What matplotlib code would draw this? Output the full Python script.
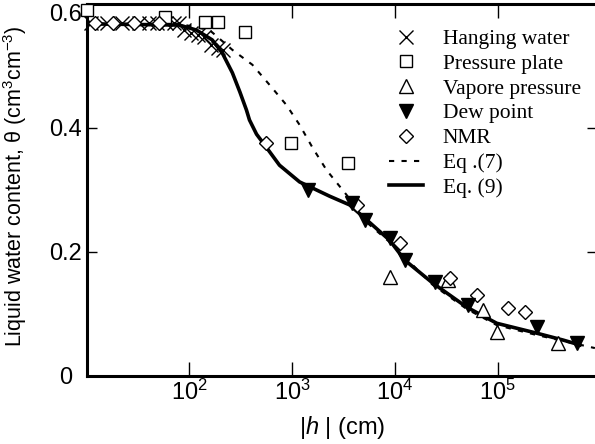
import matplotlib
matplotlib.use("Agg")
import matplotlib.pyplot as plt
from matplotlib.ticker import NullLocator, LogFormatterSciNotation

plt.rcParams['font.family'] = ['Liberation Sans', 'DejaVu Sans']
plt.rcParams['mathtext.fontset'] = 'custom'
plt.rcParams['mathtext.rm'] = 'Liberation Sans'
plt.rcParams['mathtext.it'] = 'Liberation Sans:italic'

# measured data, |h| in cm, theta in cm3/cm3
hang_h = [11.1, 15.9, 22.3, 32.6, 40.8, 48.8, 59.7, 71.4, 80.0,
          89.3, 104, 120, 140, 164, 188, 214]
hang_t = [0.570, 0.570, 0.570, 0.570, 0.570, 0.570, 0.570, 0.570, 0.570,
          0.558, 0.553, 0.550, 0.547, 0.534, 0.529, 0.526]

plate_h = [10, 58, 143, 188, 351, 984, 3450]
plate_t = [0.590, 0.579, 0.571, 0.571, 0.555, 0.376, 0.344]

vapor_h = [8850, 32500, 71300, 97500, 383000]
vapor_t = [0.160, 0.155, 0.106, 0.071, 0.053]

dew_h = [1410, 3780, 5060, 8850, 12400, 24300, 50900, 239000, 586000]
dew_t = [0.300, 0.279, 0.252, 0.223, 0.187, 0.152, 0.115, 0.079, 0.053]

nmr_h = [12.2, 18.2, 29.2, 51.1, 562, 4230, 11100, 34000, 62400, 125000, 183000]
nmr_t = [0.570, 0.570, 0.570, 0.570, 0.376, 0.276, 0.215, 0.158, 0.131, 0.110, 0.103]

# model curves
eq7_h = [10, 80, 157, 262, 410, 628, 879, 1180, 1580, 2160, 3380, 5280, 8850,
         23200, 49800, 97500, 239000, 877000]
eq7_t = [0.568, 0.568, 0.558, 0.526, 0.502, 0.466, 0.437, 0.405, 0.368, 0.332,
         0.292, 0.248, 0.216, 0.147, 0.108, 0.082, 0.066, 0.045]

eq9_h = [10, 80, 117, 167, 209, 262, 310, 359, 384, 450, 537, 752, 1180, 2310,
         3610, 5280, 8850, 12400, 23200, 49800, 97500, 239000, 429000, 627000]
eq9_t = [0.568, 0.566, 0.558, 0.542, 0.521, 0.489, 0.458, 0.429, 0.413, 0.390,
         0.373, 0.340, 0.313, 0.290, 0.276, 0.252, 0.219, 0.187, 0.150, 0.111,
         0.085, 0.069, 0.058, 0.050]

fig = plt.figure(figsize=(5.95, 4.44), dpi=100)
ax = fig.add_axes([0.1454, 0.1532, 0.858, 0.8378])

ax.plot(eq7_h, eq7_t, color='black', lw=1.5, ls=(0, (2.5, 3.5)), label='Eq .(7)', zorder=2)
ax.plot(eq9_h, eq9_t, color='black', lw=2.6, label='Eq. (9)', zorder=2)

ax.plot(hang_h, hang_t, ls='none', marker='x', ms=10, mew=1, color='black',
        label='Hanging water', zorder=3, clip_on=False)
ax.plot(plate_h, plate_t, ls='none', marker='s', ms=8.5, mew=1, mfc='white', mec='black',
        label='Pressure plate', zorder=3, clip_on=False)
ax.plot(vapor_h, vapor_t, ls='none', marker='^', ms=10, mew=1, mfc='white', mec='black',
        label='Vapore pressure', zorder=3, clip_on=False)
ax.plot(dew_h, dew_t, ls='none', marker='v', ms=10, color='black',
        label='Dew point', zorder=4, clip_on=False)
ax.plot(nmr_h, nmr_t, ls='none', marker='D', ms=7, mew=1, mfc='white', mec='black',
        label='NMR', zorder=3, clip_on=False)

ax.set_xscale('log')
ax.set_xlim(10, 9.2e5)
ax.set_ylim(0, 0.6)
ax.set_xticks([100, 1000, 10000, 100000])
ax.xaxis.set_minor_locator(NullLocator())
ax.xaxis.set_major_formatter(LogFormatterSciNotation())

ax.set_yticks([0, 0.2, 0.4, 0.6])
ylabs = ax.set_yticklabels(['0', '0.2', '0.4', '0.6'], ha='center')
ylabs[-1].set_va('top')

for s in ['left', 'bottom', 'top']:
    ax.spines[s].set_linewidth(2.2)
ax.spines['right'].set_visible(False)

ax.tick_params(axis='x', which='major', direction='in', length=10, width=1,
               top=True, labelsize=17, pad=3)
ax.tick_params(axis='y', which='major', direction='in', length=7, width=1,
               right=True, labelsize=17, pad=15)

ax.set_xlabel(r'|$h$ | (cm)', fontsize=17, labelpad=6)
ax.set_ylabel(r'Liquid water content, θ (cm$^3$cm$^{-3}$)', fontsize=15.5)
ax.yaxis.set_label_coords(-0.113, 0.51)

order = ['Hanging water', 'Pressure plate', 'Vapore pressure', 'Dew point', 'NMR',
         'Eq .(7)', 'Eq. (9)']
handles, labels = ax.get_legend_handles_labels()
hd = dict(zip(labels, handles))
ax.legend([hd[k] for k in order], order, loc='upper left',
          bbox_to_anchor=(389 / 595, 1 - 29 / 444), bbox_transform=fig.transFigure,
          frameon=False, prop={'family': 'Liberation Serif', 'size': 15.5},
          handlelength=1.6, handletextpad=0.9, labelspacing=0.22,
          borderpad=0, borderaxespad=0)

plt.savefig('out.png', dpi=100)
